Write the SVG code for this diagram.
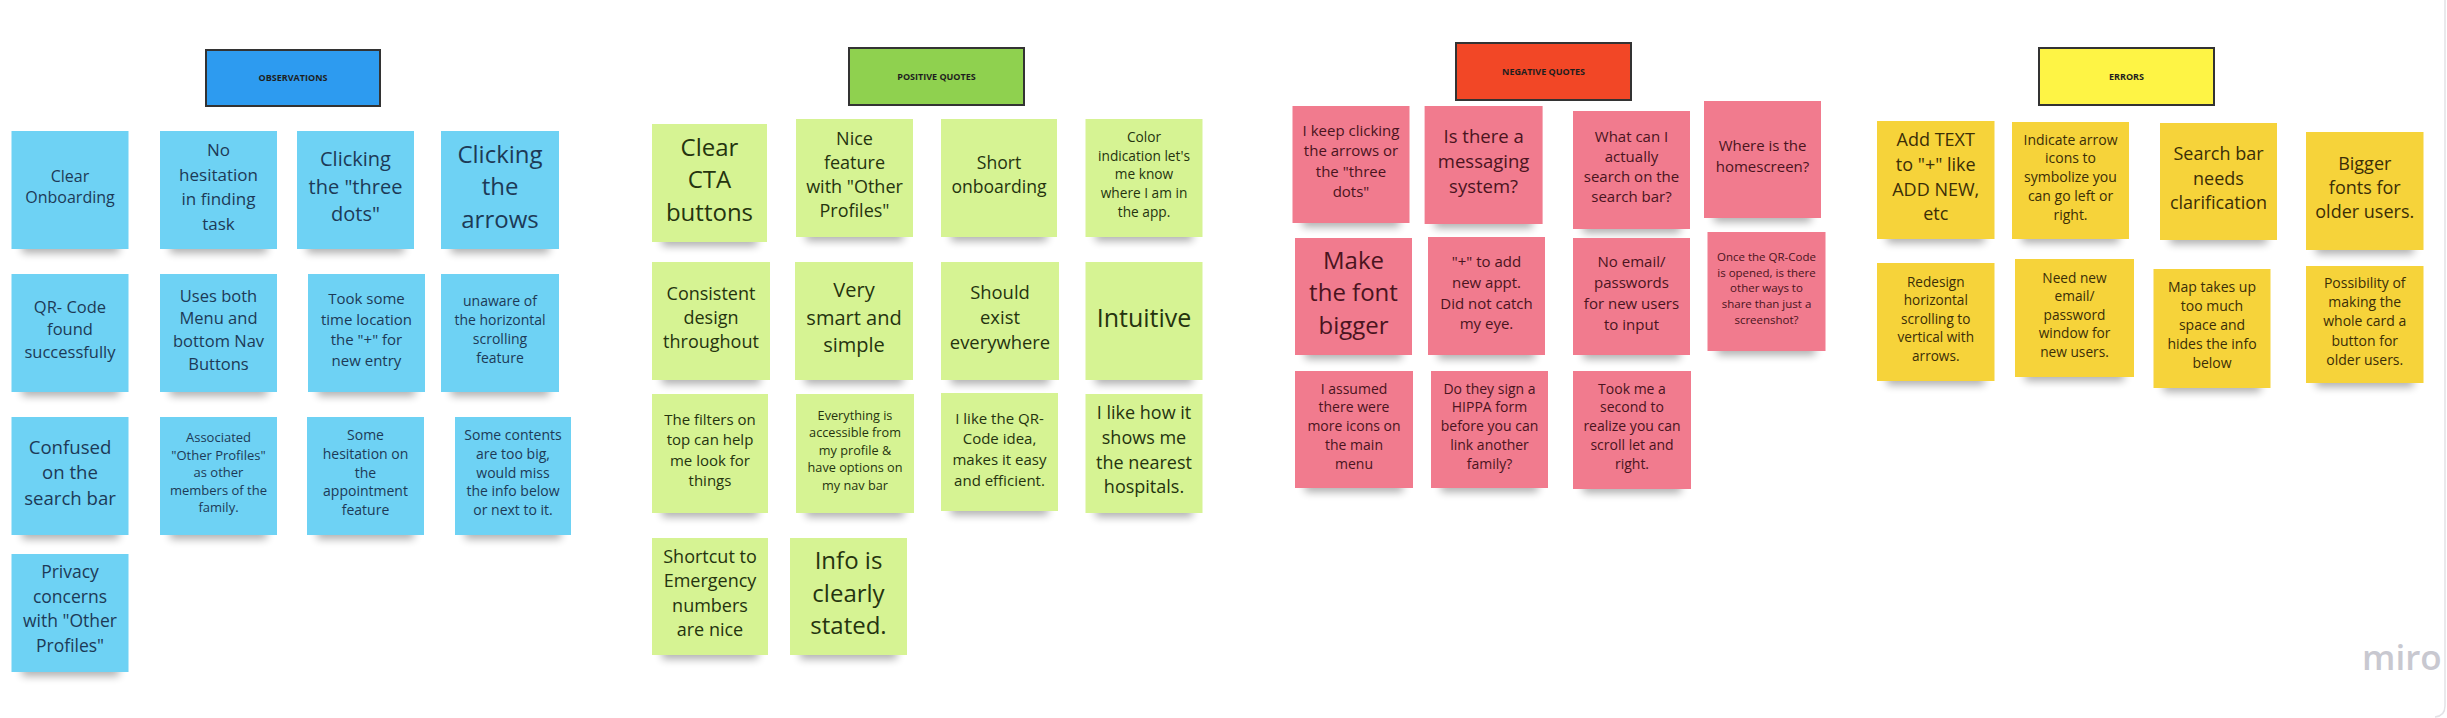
<svg xmlns="http://www.w3.org/2000/svg" width="2447" height="718" viewBox="0 0 2447 718">
<defs>
<filter id="blur" x="-20%" y="-100%" width="140%" height="300%"><feGaussianBlur stdDeviation="4"/></filter>
<style>
.sh{fill:#000;opacity:.32;filter:url(#blur)}
text{font-family:"Open Sans","Noto Sans","Liberation Sans",sans-serif;text-anchor:middle}
.blue rect.st{fill:#6ed2f4}
.blue text{fill:#1d3a57}
.green rect.st{fill:#d6f393}
.green text{fill:#25330f}
.pink rect.st{fill:#f17b8e}
.pink text{fill:#4a1420}
.yellow rect.st{fill:#f6d33a}
.yellow text{fill:#3b2e07}
.hdr rect{stroke:#333;stroke-width:2}
.hdr text{font-weight:700;font-size:9px;fill:#1e1e1e}
</style>
</defs>
<rect width="2447" height="718" fill="#fff"/>
<path d="M2445 0 V706 Q2445 716 2435 717" fill="none" stroke="#e2e2e6" stroke-width="1.5"/>

<!-- Headers -->
<g id="hdr-observations" class="hdr"><rect x="206" y="50" width="174" height="56" fill="#2d9bf0"/><text x="293" y="81" fill="#1a2f52">OBSERVATIONS</text></g>
<g id="hdr-positive" class="hdr"><rect x="849" y="48" width="175" height="57" fill="#8fd14f"/><text x="936.5" y="79.5">POSITIVE QUOTES</text></g>
<g id="hdr-negative" class="hdr"><rect x="1456" y="43" width="175" height="57" fill="#f24726"/><text x="1543.5" y="74.5">NEGATIVE QUOTES</text></g>
<g id="hdr-errors" class="hdr"><rect x="2039" y="48" width="175" height="57" fill="#fef445"/><text x="2126.5" y="79.5">ERRORS</text></g>

<!-- OBSERVATIONS -->
<g id="obs-1" class="blue"><rect class="sh" x="22" y="241" width="97" height="12"/><rect class="st" x="11.5" y="131" width="117" height="118"/><text font-size="16" x="70" y="182"><tspan x="70">Clear</tspan><tspan x="70" dy="21">Onboarding</tspan></text></g>
<g id="obs-2" class="blue"><rect class="sh" x="170" y="241" width="97" height="12"/><rect class="st" x="160" y="131" width="117" height="118"/><text font-size="17" x="218.5" y="156"><tspan x="218.5">No</tspan><tspan x="218.5" dy="24.5">hesitation</tspan><tspan x="218.5" dy="24.5">in finding</tspan><tspan x="218.5" dy="24.5">task</tspan></text></g>
<g id="obs-3" class="blue"><rect class="sh" x="307" y="241" width="97" height="12"/><rect class="st" x="297" y="131" width="117" height="118"/><text font-size="20" x="355.5" y="166"><tspan x="355.5">Clicking</tspan><tspan x="355.5" dy="27.5">the "three</tspan><tspan x="355.5" dy="27.5">dots"</tspan></text></g>
<g id="obs-4" class="blue"><rect class="sh" x="451" y="241" width="98" height="12"/><rect class="st" x="441" y="131" width="118" height="118"/><text font-size="24" x="500" y="162.5"><tspan x="500">Clicking</tspan><tspan x="500" dy="32.5">the</tspan><tspan x="500" dy="32.5">arrows</tspan></text></g>
<g id="obs-5" class="blue"><rect class="sh" x="22" y="384" width="97" height="12"/><rect class="st" x="11.5" y="274" width="117" height="118"/><text font-size="16.5" x="70" y="313"><tspan x="70">QR- Code</tspan><tspan x="70" dy="22.3">found</tspan><tspan x="70" dy="22.3">successfully</tspan></text></g>
<g id="obs-6" class="blue"><rect class="sh" x="170" y="384" width="97" height="12"/><rect class="st" x="160" y="274" width="117" height="118"/><text font-size="16.5" x="218.5" y="301.5"><tspan x="218.5">Uses both</tspan><tspan x="218.5" dy="22.7">Menu and</tspan><tspan x="218.5" dy="22.7">bottom Nav</tspan><tspan x="218.5" dy="22.7">Buttons</tspan></text></g>
<g id="obs-7" class="blue"><rect class="sh" x="318" y="384" width="97" height="12"/><rect class="st" x="308" y="274" width="117" height="118"/><text font-size="15" x="366.5" y="304"><tspan x="366.5">Took some</tspan><tspan x="366.5" dy="20.7">time location</tspan><tspan x="366.5" dy="20.7">the "+" for</tspan><tspan x="366.5" dy="20.7">new entry</tspan></text></g>
<g id="obs-8" class="blue"><rect class="sh" x="451" y="384" width="98" height="12"/><rect class="st" x="441" y="274" width="118" height="118"/><text font-size="14" x="500" y="305.5"><tspan x="500">unaware of</tspan><tspan x="500" dy="19.3">the horizontal</tspan><tspan x="500" dy="19.3">scrolling</tspan><tspan x="500" dy="19.3">feature</tspan></text></g>
<g id="obs-9" class="blue"><rect class="sh" x="22" y="527" width="97" height="12"/><rect class="st" x="11.5" y="417" width="117" height="118"/><text font-size="18.6" x="70" y="454"><tspan x="70">Confused</tspan><tspan x="70" dy="25.3">on the</tspan><tspan x="70" dy="25.3">search bar</tspan></text></g>
<g id="obs-10" class="blue"><rect class="sh" x="170" y="527" width="97" height="12"/><rect class="st" x="160" y="417" width="117" height="118"/><text font-size="13" x="218.5" y="442.3"><tspan x="218.5">Associated</tspan><tspan x="218.5" dy="17.5">"Other Profiles"</tspan><tspan x="218.5" dy="17.5">as other</tspan><tspan x="218.5" dy="17.5">members of the</tspan><tspan x="218.5" dy="17.5">family.</tspan></text></g>
<g id="obs-11" class="blue"><rect class="sh" x="317" y="527" width="97" height="12"/><rect class="st" x="307" y="417" width="117" height="118"/><text font-size="14" x="365.5" y="440"><tspan x="365.5">Some</tspan><tspan x="365.5" dy="18.8">hesitation on</tspan><tspan x="365.5" dy="18.8">the</tspan><tspan x="365.5" dy="18.8">appointment</tspan><tspan x="365.5" dy="18.8">feature</tspan></text></g>
<g id="obs-12" class="blue"><rect class="sh" x="465" y="527" width="96" height="12"/><rect class="st" x="455" y="417" width="116" height="118"/><text font-size="14" x="513" y="440"><tspan x="513">Some contents</tspan><tspan x="513" dy="18.8">are too big,</tspan><tspan x="513" dy="18.8">would miss</tspan><tspan x="513" dy="18.8">the info below</tspan><tspan x="513" dy="18.8">or next to it.</tspan></text></g>
<g id="obs-13" class="blue"><rect class="sh" x="22" y="664" width="97" height="12"/><rect class="st" x="11.5" y="554" width="117" height="118"/><text font-size="17.5" x="70" y="578"><tspan x="70">Privacy</tspan><tspan x="70" dy="24.6">concerns</tspan><tspan x="70" dy="24.6">with "Other</tspan><tspan x="70" dy="24.6">Profiles"</tspan></text></g>

<!-- POSITIVE QUOTES -->
<g id="pos-1" class="green"><rect class="sh" x="662" y="234" width="95" height="12"/><rect class="st" x="652" y="124" width="115" height="118"/><text font-size="24" x="709.5" y="155.5"><tspan x="709.5">Clear</tspan><tspan x="709.5" dy="32.5">CTA</tspan><tspan x="709.5" dy="32.5">buttons</tspan></text></g>
<g id="pos-2" class="green"><rect class="sh" x="806" y="229" width="97" height="12"/><rect class="st" x="796" y="119" width="117" height="118"/><text font-size="18" x="854.5" y="144.5"><tspan x="854.5">Nice</tspan><tspan x="854.5" dy="24.3">feature</tspan><tspan x="854.5" dy="24.3">with "Other</tspan><tspan x="854.5" dy="24.3">Profiles"</tspan></text></g>
<g id="pos-3" class="green"><rect class="sh" x="951" y="229" width="96" height="12"/><rect class="st" x="941" y="119" width="116" height="118"/><text font-size="17.6" x="999" y="169"><tspan x="999">Short</tspan><tspan x="999" dy="24">onboarding</tspan></text></g>
<g id="pos-4" class="green"><rect class="sh" x="1095.5" y="229" width="97" height="12"/><rect class="st" x="1085.5" y="119" width="117" height="118"/><text font-size="13.7" x="1144" y="142"><tspan x="1144">Color</tspan><tspan x="1144" dy="18.7">indication let's</tspan><tspan x="1144" dy="18.7">me know</tspan><tspan x="1144" dy="18.7">where I am in</tspan><tspan x="1144" dy="18.7">the app.</tspan></text></g>
<g id="pos-5" class="green"><rect class="sh" x="662" y="372" width="98" height="12"/><rect class="st" x="652" y="262" width="118" height="118"/><text font-size="18" x="711" y="299.5"><tspan x="711">Consistent</tspan><tspan x="711" dy="24.3">design</tspan><tspan x="711" dy="24.3">throughout</tspan></text></g>
<g id="pos-6" class="green"><rect class="sh" x="805" y="372" width="98" height="12"/><rect class="st" x="795" y="262" width="118" height="118"/><text font-size="20" x="854" y="297"><tspan x="854">Very</tspan><tspan x="854" dy="27.5">smart and</tspan><tspan x="854" dy="27.5">simple</tspan></text></g>
<g id="pos-7" class="green"><rect class="sh" x="951" y="372" width="98" height="12"/><rect class="st" x="941" y="262" width="118" height="118"/><text font-size="18.4" x="1000" y="299"><tspan x="1000">Should</tspan><tspan x="1000" dy="25">exist</tspan><tspan x="1000" dy="25">everywhere</tspan></text></g>
<g id="pos-8" class="green"><rect class="sh" x="1095.5" y="372" width="97" height="12"/><rect class="st" x="1085.5" y="262" width="117" height="118"/><text font-size="25" x="1144" y="326.5">Intuitive</text></g>
<g id="pos-9" class="green"><rect class="sh" x="662" y="505" width="96" height="12"/><rect class="st" x="652" y="394" width="116" height="119"/><text font-size="15" x="710" y="424.5"><tspan x="710">The filters on</tspan><tspan x="710" dy="20.6">top can help</tspan><tspan x="710" dy="20.6">me look for</tspan><tspan x="710" dy="20.6">things</tspan></text></g>
<g id="pos-10" class="green"><rect class="sh" x="806" y="505" width="98" height="12"/><rect class="st" x="796" y="394" width="118" height="119"/><text font-size="12.7" x="855" y="420"><tspan x="855">Everything is</tspan><tspan x="855" dy="17.4">accessible from</tspan><tspan x="855" dy="17.4">my profile &amp;</tspan><tspan x="855" dy="17.4">have options on</tspan><tspan x="855" dy="17.4">my nav bar</tspan></text></g>
<g id="pos-11" class="green"><rect class="sh" x="951" y="503" width="97" height="12"/><rect class="st" x="941" y="393" width="117" height="118"/><text font-size="15" x="999.5" y="423.5"><tspan x="999.5">I like the QR-</tspan><tspan x="999.5" dy="20.7">Code idea,</tspan><tspan x="999.5" dy="20.7">makes it easy</tspan><tspan x="999.5" dy="20.7">and efficient.</tspan></text></g>
<g id="pos-12" class="green"><rect class="sh" x="1095.5" y="505" width="97" height="12"/><rect class="st" x="1085.5" y="394" width="117" height="119"/><text font-size="18" x="1144" y="419"><tspan x="1144">I like how it</tspan><tspan x="1144" dy="24.8">shows me</tspan><tspan x="1144" dy="24.8">the nearest</tspan><tspan x="1144" dy="24.8">hospitals.</tspan></text></g>
<g id="pos-13" class="green"><rect class="sh" x="662" y="647" width="96" height="12"/><rect class="st" x="652" y="538" width="116" height="117"/><text font-size="18" x="710" y="562.5"><tspan x="710">Shortcut to</tspan><tspan x="710" dy="24.6">Emergency</tspan><tspan x="710" dy="24.6">numbers</tspan><tspan x="710" dy="24.6">are nice</tspan></text></g>
<g id="pos-14" class="green"><rect class="sh" x="800" y="647" width="97" height="12"/><rect class="st" x="790" y="538" width="117" height="117"/><text font-size="24" x="848.5" y="569"><tspan x="848.5">Info is</tspan><tspan x="848.5" dy="32.5">clearly</tspan><tspan x="848.5" dy="32.5">stated.</tspan></text></g>

<!-- NEGATIVE QUOTES -->
<g id="neg-1" class="pink"><rect class="sh" x="1302.5" y="215" width="97" height="12"/><rect class="st" x="1292.5" y="106" width="117" height="117"/><text font-size="15" x="1351" y="136"><tspan x="1351">I keep clicking</tspan><tspan x="1351" dy="20.3">the arrows or</tspan><tspan x="1351" dy="20.3">the "three</tspan><tspan x="1351" dy="20.3">dots"</tspan></text></g>
<g id="neg-2" class="pink"><rect class="sh" x="1434.6" y="216" width="98" height="12"/><rect class="st" x="1424.6" y="106" width="118" height="118"/><text font-size="18.5" x="1483.6" y="143"><tspan x="1483.6">Is there a</tspan><tspan x="1483.6" dy="25">messaging</tspan><tspan x="1483.6" dy="25">system?</tspan></text></g>
<g id="neg-3" class="pink"><rect class="sh" x="1583" y="221" width="97" height="12"/><rect class="st" x="1573" y="111" width="117" height="118"/><text font-size="15" x="1631.5" y="141.5"><tspan x="1631.5">What can I</tspan><tspan x="1631.5" dy="20.2">actually</tspan><tspan x="1631.5" dy="20.2">search on the</tspan><tspan x="1631.5" dy="20.2">search bar?</tspan></text></g>
<g id="neg-4" class="pink"><rect class="sh" x="1714" y="210" width="97" height="12"/><rect class="st" x="1704" y="101" width="117" height="117"/><text font-size="15" x="1762.5" y="151"><tspan x="1762.5">Where is the</tspan><tspan x="1762.5" dy="20.7">homescreen?</tspan></text></g>
<g id="neg-5" class="pink"><rect class="sh" x="1305" y="347" width="97" height="12"/><rect class="st" x="1295" y="238" width="117" height="117"/><text font-size="24" x="1353.5" y="268.5"><tspan x="1353.5">Make</tspan><tspan x="1353.5" dy="32.7">the font</tspan><tspan x="1353.5" dy="32.7">bigger</tspan></text></g>
<g id="neg-6" class="pink"><rect class="sh" x="1438" y="347" width="97" height="12"/><rect class="st" x="1428" y="237" width="117" height="118"/><text font-size="15" x="1486.5" y="267"><tspan x="1486.5">"+" to add</tspan><tspan x="1486.5" dy="20.8">new appt.</tspan><tspan x="1486.5" dy="20.8">Did not catch</tspan><tspan x="1486.5" dy="20.8">my eye.</tspan></text></g>
<g id="neg-7" class="pink"><rect class="sh" x="1583" y="347" width="97" height="12"/><rect class="st" x="1573" y="238" width="117" height="117"/><text font-size="15" x="1631.5" y="267"><tspan x="1631.5">No email/</tspan><tspan x="1631.5" dy="20.9">passwords</tspan><tspan x="1631.5" dy="20.9">for new users</tspan><tspan x="1631.5" dy="20.9">to input</tspan></text></g>
<g id="neg-8" class="pink"><rect class="sh" x="1717.5" y="343" width="98" height="12"/><rect class="st" x="1707.5" y="232" width="118" height="119"/><text font-size="11.5" x="1766.5" y="261"><tspan x="1766.5">Once the QR-Code</tspan><tspan x="1766.5" dy="15.7">is opened, is there</tspan><tspan x="1766.5" dy="15.7">other ways to</tspan><tspan x="1766.5" dy="15.7">share than just a</tspan><tspan x="1766.5" dy="15.7">screenshot?</tspan></text></g>
<g id="neg-9" class="pink"><rect class="sh" x="1305" y="480" width="98" height="12"/><rect class="st" x="1295" y="371" width="118" height="117"/><text font-size="14" x="1354" y="393.5"><tspan x="1354">I assumed</tspan><tspan x="1354" dy="18.9">there were</tspan><tspan x="1354" dy="18.9">more icons on</tspan><tspan x="1354" dy="18.9">the main</tspan><tspan x="1354" dy="18.9">menu</tspan></text></g>
<g id="neg-10" class="pink"><rect class="sh" x="1441" y="480" width="97" height="12"/><rect class="st" x="1431" y="371" width="117" height="117"/><text font-size="14" x="1489.5" y="393.5"><tspan x="1489.5">Do they sign a</tspan><tspan x="1489.5" dy="18.9">HIPPA form</tspan><tspan x="1489.5" dy="18.9">before you can</tspan><tspan x="1489.5" dy="18.9">link another</tspan><tspan x="1489.5" dy="18.9">family?</tspan></text></g>
<g id="neg-11" class="pink"><rect class="sh" x="1583" y="481" width="98" height="12"/><rect class="st" x="1573" y="371" width="118" height="118"/><text font-size="14" x="1632" y="393.5"><tspan x="1632">Took me a</tspan><tspan x="1632" dy="18.9">second to</tspan><tspan x="1632" dy="18.9">realize you can</tspan><tspan x="1632" dy="18.9">scroll let and</tspan><tspan x="1632" dy="18.9">right.</tspan></text></g>

<!-- ERRORS -->
<g id="err-1" class="yellow"><rect class="sh" x="1887" y="231" width="97.5" height="12"/><rect class="st" x="1877" y="121" width="117.5" height="118"/><text font-size="18" x="1935.75" y="146"><tspan x="1935.75">Add TEXT</tspan><tspan x="1935.75" dy="24.8">to "+" like</tspan><tspan x="1935.75" dy="24.8">ADD NEW,</tspan><tspan x="1935.75" dy="24.8">etc</tspan></text></g>
<g id="err-2" class="yellow"><rect class="sh" x="2022" y="231" width="97" height="12"/><rect class="st" x="2012" y="122" width="117" height="117"/><text font-size="14" x="2070.5" y="144.5"><tspan x="2070.5">Indicate arrow</tspan><tspan x="2070.5" dy="18.9">icons to</tspan><tspan x="2070.5" dy="18.9">symbolize you</tspan><tspan x="2070.5" dy="18.9">can go left or</tspan><tspan x="2070.5" dy="18.9">right.</tspan></text></g>
<g id="err-3" class="yellow"><rect class="sh" x="2170" y="232" width="97" height="12"/><rect class="st" x="2160" y="123" width="117" height="117"/><text font-size="18" x="2218.5" y="160"><tspan x="2218.5">Search bar</tspan><tspan x="2218.5" dy="24.7">needs</tspan><tspan x="2218.5" dy="24.7">clarification</tspan></text></g>
<g id="err-4" class="yellow"><rect class="sh" x="2316" y="242" width="97.5" height="12"/><rect class="st" x="2306" y="132" width="117.5" height="118"/><text font-size="18" x="2364.75" y="170"><tspan x="2364.75">Bigger</tspan><tspan x="2364.75" dy="24">fonts for</tspan><tspan x="2364.75" dy="24">older users.</tspan></text></g>
<g id="err-5" class="yellow"><rect class="sh" x="1887" y="373" width="97.5" height="12"/><rect class="st" x="1877" y="263" width="117.5" height="118"/><text font-size="13.6" x="1935.75" y="286.5"><tspan x="1935.75">Redesign</tspan><tspan x="1935.75" dy="18.5">horizontal</tspan><tspan x="1935.75" dy="18.5">scrolling to</tspan><tspan x="1935.75" dy="18.5">vertical with</tspan><tspan x="1935.75" dy="18.5">arrows.</tspan></text></g>
<g id="err-6" class="yellow"><rect class="sh" x="2025" y="369" width="99" height="12"/><rect class="st" x="2015" y="259" width="119" height="118"/><text font-size="13.7" x="2074.5" y="282.5"><tspan x="2074.5">Need new</tspan><tspan x="2074.5" dy="18.6">email/</tspan><tspan x="2074.5" dy="18.6">password</tspan><tspan x="2074.5" dy="18.6">window for</tspan><tspan x="2074.5" dy="18.6">new users.</tspan></text></g>
<g id="err-7" class="yellow"><rect class="sh" x="2163.5" y="380" width="97" height="12"/><rect class="st" x="2153.5" y="269" width="117" height="119"/><text font-size="14" x="2212" y="292"><tspan x="2212">Map takes up</tspan><tspan x="2212" dy="19">too much</tspan><tspan x="2212" dy="19">space and</tspan><tspan x="2212" dy="19">hides the info</tspan><tspan x="2212" dy="19">below</tspan></text></g>
<g id="err-8" class="yellow"><rect class="sh" x="2316" y="375" width="97.5" height="12"/><rect class="st" x="2306" y="266" width="117.5" height="117"/><text font-size="14" x="2364.75" y="288"><tspan x="2364.75">Possibility of</tspan><tspan x="2364.75" dy="19.2">making the</tspan><tspan x="2364.75" dy="19.2">whole card a</tspan><tspan x="2364.75" dy="19.2">button for</tspan><tspan x="2364.75" dy="19.2">older users.</tspan></text></g>

<g id="connectors"/>

<text id="miro-logo" x="2362" y="670" font-size="35" font-weight="600" fill="#c8c8d0" style="text-anchor:start">miro</text>
</svg>
